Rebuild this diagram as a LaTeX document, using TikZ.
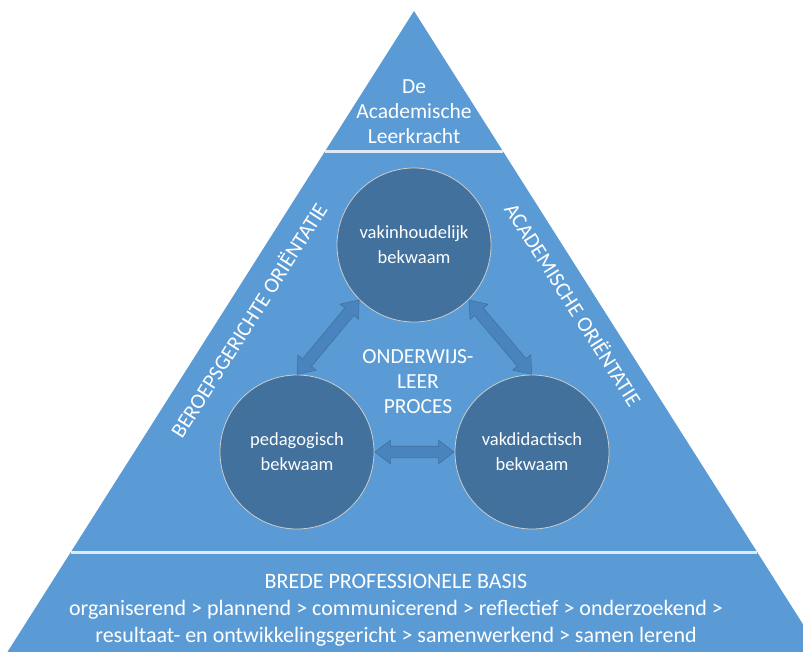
\documentclass[tikz,border=0pt]{standalone}
\usepackage{fontspec}
\setmainfont{Carlito}
\usetikzlibrary{shapes.arrows}

\definecolor{triblue}{HTML}{5B9BD5}
\definecolor{circblue}{HTML}{41719C}
\definecolor{arrowblue}{HTML}{4A84BF}
\definecolor{sepline}{HTML}{DEEBF7}

\begin{document}
\begin{tikzpicture}[x=1pt, y=-1pt, text=white, align=center,
        font=\fontsize{21.5}{25}\selectfont,
        kwaliteit/.style={circle, fill=circblue, draw=black!20, line width=0.8pt,
            minimum size=154pt, font=\fontsize{18.5}{25}\selectfont},
        wisselwerking/.style={double arrow, fill=arrowblue, draw=circblue, line width=0.6pt,
            inner xsep=0pt, inner ysep=5.5pt, double arrow head extend=6pt,
            double arrow tip angle=75, sloped},
        orientatie/.style={font=\fontsize{21.5}{25}\selectfont}]
        % Frame
        \clip (0,0) rectangle (803,651);

        % Pyramid
        \fill[triblue] (414,11) -- (851,700) -- (-23,700) -- cycle;
        \draw[sepline, line width=3pt] (325,151) -- (503,151)
        (71,552) -- (757,552);

        % Top
        \node (top) at (414,112) {De\\Academische\\Leerkracht};

        % Orientations
        \node[orientatie, rotate=57.6] (beroeps) at (248,320) {BEROEPSGERICHTE ORIËNTATIE};
        \node[orientatie, rotate=-57.6] (academisch) at (574,304) {ACADEMISCHE ORIËNTATIE};

        % Competences
        \node[kwaliteit] (vakinh) at (414,245) {vakinhoudelijk\\bekwaam};
        \node[kwaliteit] (pedag) at (297,452) {pedagogisch\\bekwaam};
        \node[kwaliteit] (vakdid) at (532,452) {vakdidactisch\\bekwaam};

        % Process
        \node (proces) at (418,382) {ONDERWIJS-\\LEER\\PROCES};

        % Links
        \path (vakinh.-135) -- (pedag.north)
        node[wisselwerking, midway, minimum height=97pt] (link1) {};
        \path (vakinh.-45) -- (vakdid.north)
        node[wisselwerking, midway, minimum height=97pt] (link2) {};
        \path (pedag.east) -- (vakdid.west)
        node[wisselwerking, midway, minimum height=79pt] (link3) {};

        % Basis
        \node[font=\fontsize{22}{27}\selectfont] (basis) at (396,610) {BREDE PROFESSIONELE BASIS\\
        organiserend > plannend > communicerend > reflectief > onderzoekend >\\
        resultaat- en ontwikkelingsgericht > samenwerkend > samen lerend};
    \end{tikzpicture}
\end{document}
